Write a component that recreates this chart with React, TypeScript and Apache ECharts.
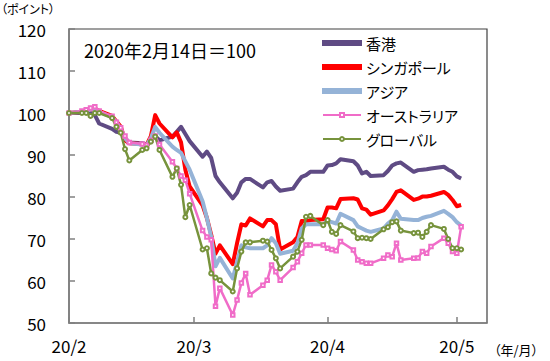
import React, { useEffect, useRef } from "react";
import * as echarts from "echarts";

// trading dates (2020)
const dates = [
  "02-14", "02-17", "02-18", "02-19", "02-20", "02-21", "02-24", "02-25", "02-26", "02-27", "02-28",
  "03-02", "03-03", "03-04", "03-05", "03-06", "03-09", "03-10", "03-11", "03-12", "03-13",
  "03-16", "03-17", "03-18", "03-19", "03-20", "03-23", "03-24", "03-25", "03-26", "03-27", "03-30", "03-31",
  "04-01", "04-02", "04-03", "04-06", "04-07", "04-08", "04-09", "04-10", "04-13", "04-14", "04-15", "04-16", "04-17",
  "04-20", "04-21", "04-22", "04-23", "04-24", "04-27", "04-28", "04-29", "04-30",
  "05-01", "05-04", "05-05", "05-06", "05-07", "05-08", "05-11", "05-12", "05-13", "05-14", "05-15",
];

const hongKong = [
  100, 100, 100.3, 100, 99.5, 97.5, 96.2, 95.5, 95.3, 94, 93,
  92.8, 92.5, 93.5, 94.5, 93.5, 94.4, 95.5, 96.7, 95, 93.3, 89.6, 90.8, 89.3, 85, 83.5, 79.7, 81, 83.5, 84.3, 84.3, 82.3, 83.5,
  83.8, 82.5, 81.5, 82, 83.5, 84.8, 85.2, 86, 86, 87.5, 87.6, 88, 89, 88.5, 87.5, 85.6, 86, 85, 85.2, 86.2, 87.5, 88,
  88.2, 86, 86.4, 86.5, 86.6, 86.8, 87.2, 86.5, 86, 84.9, 84.4,
];
const singapore = [
  100, 100.3, 100.5, 100.8, 101, 100.5, 99.3, 98, 96.8, 93.5, 92.8,
  92.6, 92.4, 94.5, 99.5, 97.5, 94.2, 95.4, 93, 86.5, 82.5, 78, 75, 71, 66.5, 68.5, 64, 69, 73.5, 73.2, 74.9, 73, 74.5,
  74.5, 73.5, 67.5, 69.2, 70.5, 74.3, 74.2, 74.5, 74.7, 77.5, 77.5, 77.3, 79.5, 79.7, 79.4, 77.3, 77, 75.8, 76.8, 78, 79.5, 81.2,
  81.6, 79.3, 79.6, 80.1, 80.1, 80.3, 81.2, 80.5, 79.3, 77.8, 78.1,
];
const asia = [
  100, 100.3, 100.5, 100.8, 101, 100.3, 99, 97.8, 96.3, 94, 92.8,
  92.5, 92.3, 94, 96.7, 95.3, 92, 91.2, 90.5, 88.5, 86.5, 79, 75, 70.5, 63.5, 65.5, 60.6, 64.5, 68.5, 68, 67.8, 67.8, 68.5,
  70.2, 69, 66.5, 67.2, 69, 72.5, 73.5, 73.5, 73.5, 74.3, 74, 73.7, 76, 74.5, 73, 72.5, 72, 71.7, 72.5, 73.7, 74.5, 76.5,
  74.8, 74.5, 74.5, 75, 75.3, 75.5, 76.7, 76, 75.2, 74, 73.2,
];
const australia = [
  100, 100.5, 100.8, 101.2, 101.5, 100.5, 99.2, 97.8, 96.5, 94.5, 93,
  92.6, 92.3, 93.5, 94.5, 92.5, 88.4, 86.8, 85, 84, 80.8, 72, 70.5, 69.8, 54, 58.3, 51.9, 55.5, 59.5, 61.8, 56.7, 59, 60.2,
  63.8, 62.2, 60.2, 63.2, 64.6, 66.6, 68.6, 68.6, 68.6, 67.8, 67.5, 67.2, 69.4, 67.4, 65, 64.6, 64.2, 64.2, 65.4, 66.2, 65.8, 69,
  65, 65.4, 65.5, 67, 66.6, 68.2, 70.2, 69, 67, 66.6, 72.9,
];
const globalIdx = [
  100, 100, 100, 99.3, 100, 100, 98.8, 96.7, 95.3, 91.4, 88.7,
  91.2, 91.6, 93.2, 94.4, 91.2, 84.8, 86.8, 82.9, 75.2, 78.1, 67.5, 67.8, 61.8, 60.8, 60.2, 57.5, 63, 67, 69.2, 69.2, 69.6, 69.4,
  67.4, 65.4, 63, 65.8, 67, 69.8, 75.3, 75.5, 73.3, 74.5, 71.7, 71.2, 73.3, 71.8, 70.2, 70.3, 70.2, 70, 72.3, 72.8, 74, 74.2,
  72, 71.4, 71.5, 70.5, 71.7, 73.3, 72.4, 70, 67.8, 67.8, 67.5,
];

const seriesNames = ["香港", "シンガポール", "アジア", "オーストラリア", "グローバル"];
const tickDates = ["02-14", "03-14", "04-14", "05-14"];
const tickLabels = ["20/2", "20/3", "20/4", "20/5"];
const axisEndDate = "05-21";
const baseDate = "02-14";

const dayOffset = (md: string) => {
  const [m, d] = md.split("-").map(Number);
  const [bm, bd] = baseDate.split("-").map(Number);
  return Math.round((Date.UTC(2020, m - 1, d) - Date.UTC(2020, bm - 1, bd)) / 86400000);
};

const FONT = "'Noto Sans CJK JP', 'Noto Sans', sans-serif";
const BAR_ICON = "path://M0,0H38V4H0Z";

export default function App() {
  const ref = useRef<HTMLDivElement>(null);
  useEffect(() => {
    if (!ref.current) return;
    const chart = echarts.init(ref.current, null, { renderer: "svg" });
    const xs = dates.map(dayOffset);
    const ticks = tickDates.map(dayOffset);
    const mk = (vals: number[]) => vals.map((v, i) => [xs[i], v]);
    const colors = ["#5F4B84", "#FF0000", "#95B3D7", "#F06CC8", "#77933C"];
    const widths = [4, 4, 4, 2.5, 2.5];
    const all = [hongKong, singapore, asia, australia, globalIdx];
    const symbols = ["none", "none", "none", "emptyRect", "emptyCircle"];
    const option: any = {
      animation: false,
      textStyle: { fontFamily: FONT },
      grid: {
        left: 69, top: 29, right: 63, bottom: 38,
        show: true, borderColor: "#404040", borderWidth: 1.2,
      },
      xAxis: {
        type: "value",
        min: 0,
        max: dayOffset(axisEndDate),
        axisLine: { lineStyle: { color: "#808080", width: 1.5 } },
        axisTick: {
          show: true, inside: true, length: 6, customValues: ticks,
          lineStyle: { color: "#808080", width: 1.5 },
        },
        axisLabel: {
          customValues: ticks,
          formatter: (v: number) => {
            const i = ticks.indexOf(Math.round(v));
            return i >= 0 ? tickLabels[i] : "";
          },
          fontSize: 17, color: "#000", margin: 14, fontFamily: FONT,
        },
        splitLine: { show: false },
      },
      yAxis: {
        type: "value", min: 50, max: 120, interval: 10,
        axisLine: { show: true, lineStyle: { color: "#808080", width: 1.5 } },
        axisTick: { show: true, inside: true, length: 6, lineStyle: { color: "#808080", width: 1.5 } },
        axisLabel: { fontSize: 17, color: "#000", margin: 23, fontFamily: FONT },
        splitLine: { show: false },
      },
      legend: {
        orient: "vertical",
        left: 317, top: 30,
        itemWidth: 38, itemHeight: 5, itemGap: 8,
        textStyle: { fontSize: 15, color: "#000", lineHeight: 16, fontFamily: FONT },
        data: seriesNames.map((n, i) => (symbols[i] === "none" ? { name: n, icon: BAR_ICON } : { name: n })),
      },
      graphic: [
        { type: "text", left: 1, top: 2, style: { text: "（ポイント）", fontSize: 12, fill: "#000", fontFamily: FONT } },
        { type: "text", left: 494, top: 343, style: { text: "（年/月）", fontSize: 13, fill: "#000", fontFamily: FONT } },
        { type: "text", left: 84, top: 41, style: { text: "2020年2月14日＝100", fontSize: 18, fill: "#000", fontFamily: FONT } },
      ],
      series: all.map((vals, i) => ({
        name: seriesNames[i],
        type: "line",
        data: mk(vals),
        symbol: symbols[i],
        symbolSize: symbols[i] === "emptyRect" ? 3.5 : 4,
        showSymbol: symbols[i] !== "none",
        itemStyle: { color: colors[i], borderColor: colors[i], borderWidth: 1.2 },
        lineStyle: { color: colors[i], width: widths[i], join: "round" },
        emphasis: { disabled: true },
      })),
    };
    chart.setOption(option);
    return () => chart.dispose();
  }, []);
  return (
    <>
      <style>{`svg text { font-feature-settings: "palt" 1 !important; }`}</style>
      <div
        ref={ref}
        style={{ position: "fixed", left: 0, top: 0, width: 550, height: 361, background: "#fff" }}
      />
    </>
  );
}
